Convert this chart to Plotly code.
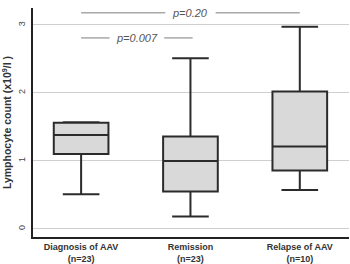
import plotly.graph_objects as go

categories = ["Diagnosis of AAV<br>(n=23)", "Remission<br>(n=23)", "Relapse of AAV<br>(n=10)"]
lower = [0.51, 0.18, 0.57]
q1 = [1.10, 0.55, 0.86]
median = [1.38, 1.00, 1.21]
q3 = [1.56, 1.36, 2.02]
upper = [1.57, 2.51, 2.975]

comp_from = [0, 0]
comp_to = [2, 1.02]
comp_y = [3.18, 2.81]
comp_labels = ["p=0.20", "p=0.007"]
label_gap = [0.23, 0.25]  # half-width of the line break around each label (category units)

fig = go.Figure()
fig.add_trace(go.Box(
    x=categories, q1=q1, median=median, q3=q3,
    lowerfence=lower, upperfence=upper,
    fillcolor="#d9d9d9", line=dict(color="#2b2b2b", width=2),
    width=0.5, whiskerwidth=0.67, boxpoints=False, hoverinfo="skip",
))

for a, b, yv, lab, g in zip(comp_from, comp_to, comp_y, comp_labels, label_gap):
    mid = (a + b) / 2
    for x0, x1 in [(a, mid - g), (mid + g, b)]:
        fig.add_shape(type="line", xref="x", yref="y", x0=x0, x1=x1, y0=yv, y1=yv,
                      line=dict(color="#a8a8a8", width=1.5))
    fig.add_annotation(x=mid, y=yv, xref="x", yref="y", text="<i>" + lab + "</i>",
                       showarrow=False, borderpad=0,
                       font=dict(family="Liberation Sans, Arial", size=11, color="#555555"))

fig.update_layout(
    width=350, height=264,
    margin=dict(l=33, r=1, t=8, b=27),
    paper_bgcolor="white", plot_bgcolor="white",
    showlegend=False,
    font=dict(family="Liberation Sans, Arial", color="#333333"),
)
fig.update_xaxes(
    type="category", range=[-0.44, 2.45],
    showline=True, linecolor="#222222", linewidth=2,
    showgrid=False, ticks="", ticklen=0,
    tickfont=dict(size=9, family="Liberation Sans, Arial", weight="bold"),
)
fig.update_yaxes(
    range=[-0.12, 3.25], tickvals=[0, 1, 2, 3], ticktext=["0", "1", "2", "3"],
    tickangle=-90, tickfont=dict(size=9, color="#444444"),
    showline=True, linecolor="#222222", linewidth=2,
    showgrid=True, gridcolor="#cfcfcf", gridwidth=1, zeroline=False,
    ticks="", ticklabelstandoff=2,
    title=dict(text="Lymphocyte count (x10<sup>9</sup>/l )", standoff=6,
               font=dict(size=10.5, weight="bold", color="#333333")),
)

fig.write_html("out.html")
